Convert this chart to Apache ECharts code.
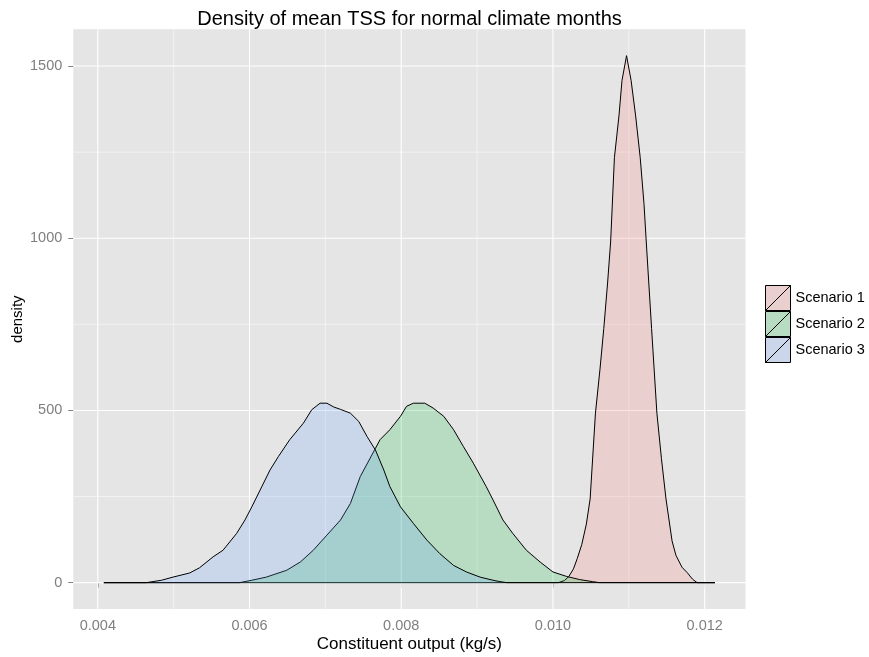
<!DOCTYPE html>
<html>
<head>
<meta charset="utf-8">
<script src="https://cdn.jsdelivr.net/npm/echarts@6/dist/echarts.min.js"></script>
<style>
html,body{margin:0;padding:0;background:#fff;}
#chart{width:869px;height:657px;}
</style>
</head>
<body>
<div id="chart"></div>
<script>
// ---- data ----
const seriesNames = ['Scenario 1', 'Scenario 2', 'Scenario 3'];

const scenario1 = [
  [0.00408,0],[0.01007,0],[0.01015,6],[0.01021,18],[0.01027,40],[0.01032,70],[0.01038,111],
  [0.01044,170],[0.01049,243],[0.01056,492],[0.01062,620],[0.01067,738],[0.01072,870],[0.01076,989],
  [0.01081,1234],[0.01087,1355],[0.01091,1458],[0.01097,1530],[0.01103,1458],[0.01109,1355],
  [0.01115,1234],[0.0112,1100],[0.01123,989],[0.0113,738],[0.01137,492],[0.01143,360],[0.01149,243],
  [0.01157,121],[0.01162,80],[0.0117,45],[0.01177,29],[0.01184,10],[0.0119,0],[0.012135,0]
];

const scenario2 = [
  [0.00408,0],[0.00587,0],[0.00603,7],[0.00622,16],[0.00649,36],[0.00667,60],[0.00684,94],
  [0.00702,138],[0.0072,182],[0.00733,230],[0.00746,308],[0.00766,390],[0.00772,415],[0.00785,444],
  [0.00799,483],[0.00807,512],[0.00816,521],[0.00831,521],[0.00842,507],[0.00856,483],[0.00869,444],
  [0.00882,395],[0.00895,347],[0.00912,279],[0.00921,240],[0.00934,182],[0.00947,143],[0.00965,94],
  [0.00983,60],[0.01,31],[0.01018,18],[0.01035,9],[0.01052,3],[0.01061,0],[0.012135,0]
];

const scenario3 = [
  [0.00408,0],[0.00464,0],[0.00484,7],[0.00499,16],[0.00521,28],[0.00534,43],[0.00552,75],
  [0.00565,94],[0.00583,143],[0.00594,182],[0.00603,220],[0.00614,269],[0.00627,327],[0.00638,366],
  [0.00653,415],[0.00671,463],[0.00682,502],[0.00693,521],[0.00702,521],[0.00711,510],[0.0072,503],
  [0.00733,492],[0.00744,468],[0.00755,424],[0.00766,385],[0.00777,327],[0.00785,279],[0.00799,220],
  [0.00816,172],[0.00834,123],[0.00851,84],[0.00869,50],[0.00886,31],[0.00904,16],[0.00921,7],
  [0.0093,3],[0.00939,0],[0.012135,0]
];

const xTicks = [0.004, 0.006, 0.008, 0.010, 0.012];
const xMinorGrid = [0.005, 0.007, 0.009, 0.011];
const yTicks = [0, 500, 1000, 1500];
const yMinorGrid = [250, 750, 1250];
const xRange = [0.003677, 0.012538];
const yRange = [-76.5, 1606.5];

// ---- styling ----
const FONT = "'Liberation Sans', Arial, sans-serif";
const fillColors = ['#F8766D', '#00BA38', '#619CFF'];
const legendColors = ['#E9CFCD', '#B7DCC2', '#CBD6EA'];
const panelBg = '#E5E5E5';

const series = [];
function gridSeries(points, color, width) {
  series.push({
    type: 'line', data: points, z: 1, silent: true, symbol: 'none', showSymbol: false,
    lineStyle: {color: color, width: width}, emphasis: {disabled: true}, legendHoverLink: false
  });
}
xMinorGrid.forEach(v => gridSeries([[v, yRange[0]], [v, yRange[1]]], '#F2F2F2', 1));
yMinorGrid.forEach(v => gridSeries([[xRange[0], v], [xRange[1], v]], '#F2F2F2', 1));
xTicks.forEach(v => gridSeries([[v, yRange[0]], [v, yRange[1]]], '#FFFFFF', 1.1));
yTicks.forEach(v => gridSeries([[xRange[0], v], [xRange[1], v]], '#FFFFFF', 1.1));

[scenario1, scenario2, scenario3].forEach((d, i) => {
  series.push({
    type: 'line',
    name: seriesNames[i],
    data: d,
    z: 2 + i,
    symbol: 'none',
    showSymbol: false,
    smooth: false,
    lineStyle: {color: '#000000', width: 1},
    itemStyle: {color: legendColors[i]},
    areaStyle: {color: fillColors[i], opacity: 0.2, origin: 'auto'},
    emphasis: {disabled: true},
    silent: true
  });
});

const chart = echarts.init(document.getElementById('chart'), null, {renderer: 'canvas'});
chart.setOption({
  animation: false,
  backgroundColor: '#ffffff',
  textStyle: {fontFamily: FONT},
  title: {
    text: 'Density of mean TSS for normal climate months',
    left: 409.5,
    top: 9,
    padding: 0,
    textAlign: 'center',
    textStyle: {fontFamily: FONT, fontSize: 20, fontWeight: 'normal', color: '#000000'}
  },
  grid: {
    left: 73.3, right: 123.5, top: 29.3, bottom: 48,
    containLabel: false,
    outerBoundsMode: 'none',
    show: true, backgroundColor: panelBg, borderWidth: 0
  },
  legend: {
    orient: 'vertical',
    left: 765,
    top: 285,
    padding: 0,
    itemGap: 0,
    itemWidth: 25,
    itemHeight: 25,
    selectedMode: false,
    icon: 'path://M0,0L25,0L25,25L0,25ZM0,25L25,0',
    textStyle: {fontFamily: FONT, fontSize: 14.5, color: '#000000'},
    data: seriesNames.map((n, i) => ({
      name: n,
      itemStyle: {color: legendColors[i], borderColor: '#000000', borderWidth: 1}
    }))
  },
  xAxis: {
    type: 'value',
    min: xRange[0],
    max: xRange[1],
    name: 'Constituent output (kg/s)',
    nameLocation: 'middle',
    nameGap: 27,
    nameMoveOverlap: false,
    nameTextStyle: {fontFamily: FONT, fontSize: 17, color: '#000000'},
    axisLine: {show: false},
    axisTick: {show: true, length: 5, customValues: xTicks, lineStyle: {color: '#7F7F7F', width: 1}},
    axisLabel: {
      customValues: xTicks,
      margin: 9,
      fontFamily: FONT, fontSize: 14.5, color: '#7F7F7F',
      formatter: v => v.toFixed(3)
    },
    splitLine: {show: false},
    minorSplitLine: {show: false}
  },
  yAxis: {
    type: 'value',
    min: yRange[0],
    max: yRange[1],
    name: 'density',
    nameLocation: 'middle',
    nameGap: 48,
    nameRotate: 90,
    nameMoveOverlap: false,
    nameTextStyle: {fontFamily: FONT, fontSize: 15, color: '#000000'},
    axisLine: {show: false},
    axisTick: {show: true, length: 5, customValues: yTicks, lineStyle: {color: '#7F7F7F', width: 1}},
    axisLabel: {
      customValues: yTicks,
      margin: 11,
      fontFamily: FONT, fontSize: 14.5, color: '#7F7F7F',
      formatter: v => String(Math.round(v))
    },
    splitLine: {show: false},
    minorSplitLine: {show: false}
  },
  series: series
});
</script>
</body>
</html>
